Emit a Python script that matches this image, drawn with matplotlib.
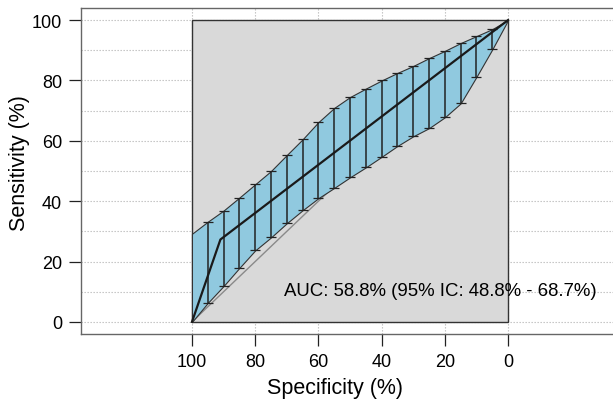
import matplotlib
matplotlib.use("Agg")
import matplotlib.pyplot as plt
from matplotlib.patches import Rectangle

plt.rcParams['font.family'] = ['Liberation Sans', 'DejaVu Sans']

# ROC curve (specificity %, sensitivity %)
roc_spec = [100, 91, 0]
roc_sens = [0, 27.3, 100]

# confidence interval of sensitivity at fixed specificities
ci_spec = [100, 95, 90, 85, 80, 75, 70, 65, 60, 55, 50, 45, 40, 35, 30, 25, 20, 15, 10, 5, 0]
ci_upper = [29.2, 33.2, 36.9, 41.2, 45.6, 50.0, 55.3, 60.5, 66.2, 70.9, 74.5, 77.3,
            80.0, 82.5, 84.8, 87.4, 89.8, 92.4, 94.7, 97.0, 100]
ci_lower = [0, 6.3, 11.9, 17.9, 23.7, 28.0, 32.7, 37.0, 41.0, 44.4, 47.9, 51.2,
            54.7, 58.3, 61.5, 64.2, 67.8, 72.4, 81.2, 90.3, 100]

auc_text = "AUC: 58.8% (95% IC: 48.8% - 68.7%)"

W, H = 613, 402
fig = plt.figure(figsize=(W / 100, H / 100), dpi=100)
ax = fig.add_axes([81 / W, 1 - 335 / H, 545 / W, 326 / H])
ax.set_xlim(135.1, -37.3)
ax.set_ylim(-4, 104)

# grid behind everything
for y in range(0, 101, 10):
    ax.axhline(y, color='#bdbdbd', ls=(0, (1.2, 1.5)), lw=0.8, zorder=0)
for x in range(0, 101, 20):
    ax.axvline(x, color='#bdbdbd', ls=(0, (1.2, 1.5)), lw=0.8, zorder=0)

# grey plotting region
ax.add_patch(Rectangle((0, 0), 100, 100, facecolor='#d9d9d9', edgecolor='#333333',
                       lw=1.0, zorder=1))

# chance line
ax.plot([100, 0], [0, 100], color='#8a8a8a', lw=1.0, zorder=2)

# CI band
ax.fill_between(ci_spec, ci_lower, ci_upper, facecolor='#90c9df', edgecolor='#333333',
                lw=0.8, zorder=3)

# error bars (skip the endpoints)
mid = [(u + l) / 2 for u, l in zip(ci_upper[1:-1], ci_lower[1:-1])]
half = [(u - l) / 2 for u, l in zip(ci_upper[1:-1], ci_lower[1:-1])]
ax.errorbar(ci_spec[1:-1], mid, yerr=[half, half],
            fmt='none', ecolor='#222222', elinewidth=1.1, capsize=3.5, capthick=0.9, zorder=4)

# ROC line
ax.plot(roc_spec, roc_sens, color='#1a1a1a', lw=1.6, zorder=5)

ax.text(71, 10.4, auc_text, ha='left', va='center', fontsize=13.4, zorder=6)

ax.set_xticks(range(0, 101, 20))
ax.set_yticks(range(0, 101, 20))
ax.tick_params(direction='out', length=8.5, width=0.9, color='#222222', labelsize=13, pad=5)
for s in ax.spines.values():
    s.set_color('#666666')
    s.set_linewidth(1.0)

fig.text(335 / W, 1 - 389 / H, "Specificity (%)", ha='center', va='center', fontsize=15.5)
fig.text(20 / W, 1 - 163 / H, "Sensitivity (%)", ha='center', va='center',
         rotation=90, fontsize=15.5)

fig.savefig("out.png", dpi=100)
